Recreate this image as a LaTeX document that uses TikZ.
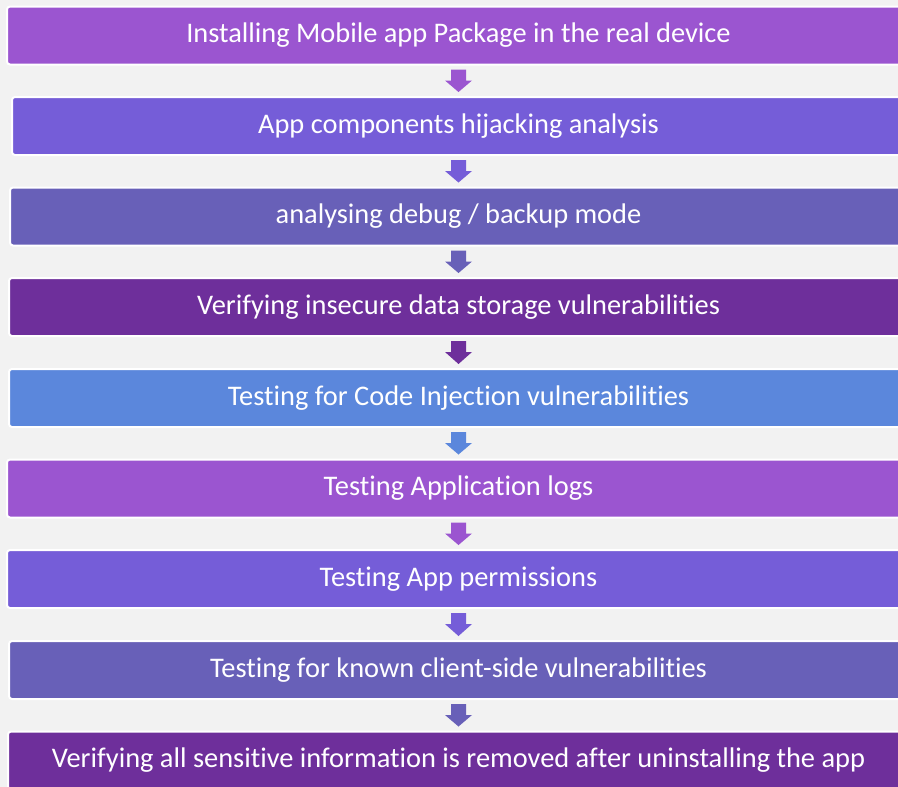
\documentclass[tikz,border=0pt]{standalone}
\usepackage{fontspec}
\setmainfont{Carlito}[Ligatures={NoCommon,NoRare,NoContextual,NoHistoric}]
\usepackage{tikz}
\usetikzlibrary{calc,positioning}
\definecolor{bgcol}{HTML}{F2F2F2}
\definecolor{violet1}{HTML}{9B55D0}
\definecolor{violet2}{HTML}{755DD8}
\definecolor{violet3}{HTML}{6860B8}
\definecolor{violet4}{HTML}{6E2F9B}
\definecolor{blue5}{HTML}{5B87DC}
\newcommand{\boxheight}{58pt}
\newcommand{\shaft}{7.5pt}
\newcommand{\head}{13.5pt}
\newcommand{\blockarrow}[3]{%
\fill[#3] ($(#1.south)+(-\shaft,-4pt)$) -- ($(#1.south)+(\shaft,-4pt)$)
  -- ($(#1.south)+(\shaft,-15pt)$) -- ($(#1.south)+(\head,-15pt)$)
  -- ($(#2.north)+(0,4pt)$) -- ($(#1.south)+(-\head,-15pt)$)
  -- ($(#1.south)+(-\shaft,-15pt)$) -- cycle;}

\tikzset{
  stepbox/.style={rectangle, rounded corners=3pt, draw=white, line width=2pt,
    minimum height=\boxheight, inner sep=0pt, text=white,
    font=\fontsize{28.4}{32}\selectfont}
}

\begin{document}
\begin{tikzpicture}
\useasboundingbox[fill=bgcol] (0,0) rectangle (898pt,-787pt);
\node[stepbox, fill=violet1, minimum width=903pt] (install) at (458.5pt,-35.5pt) {Installing Mobile app Package in the real device};
\node[stepbox, fill=violet2, minimum width=893pt] (hijack) at (458.5pt,-126pt) {App components hijacking analysis};
\node[stepbox, fill=violet3, minimum width=897pt] (debug) at (458.5pt,-216.5pt) {analysing debug / backup mode};
\node[stepbox, fill=violet4, minimum width=899pt] (storage) at (458.5pt,-307pt) {Verifying insecure data storage vulnerabilities};
\node[stepbox, fill=blue5, minimum width=899pt] (inject) at (458.5pt,-398pt) {Testing for Code Injection vulnerabilities};
\node[stepbox, fill=violet1, minimum width=903pt] (logs) at (458.5pt,-488.5pt) {Testing Application logs};
\node[stepbox, fill=violet2, minimum width=903pt] (perms) at (458.5pt,-579pt) {Testing App permissions};
\node[stepbox, fill=violet3, minimum width=899pt] (client) at (458.5pt,-670pt) {Testing for known client-side vulnerabilities};
\node[stepbox, fill=violet4, minimum width=901pt] (uninstall) at (458.5pt,-760.5pt) {Verifying all sensitive information is removed after uninstalling the app};
% block arrows between the steps
\blockarrow{install}{hijack}{violet1}
\blockarrow{hijack}{debug}{violet2}
\blockarrow{debug}{storage}{violet3}
\blockarrow{storage}{inject}{violet4}
\blockarrow{inject}{logs}{blue5}
\blockarrow{logs}{perms}{violet1}
\blockarrow{perms}{client}{violet2}
\blockarrow{client}{uninstall}{violet3}
\end{tikzpicture}
\end{document}
